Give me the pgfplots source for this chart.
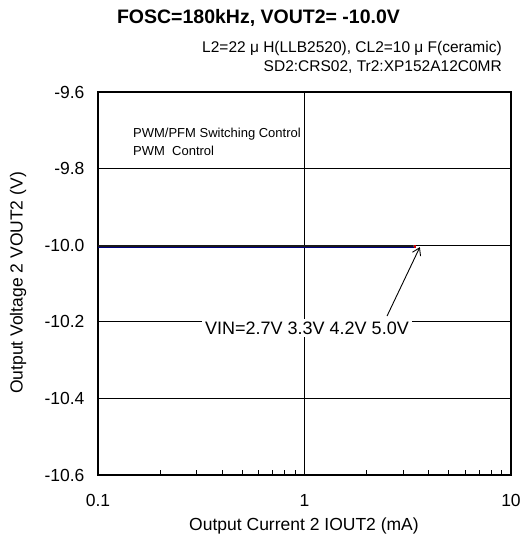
\documentclass[border=0pt]{standalone}
\usepackage{pgfplots}
\pgfplotsset{compat=1.18}
\usetikzlibrary{arrows.meta}
\usepackage{fontspec}
\setmainfont{Liberation Sans}

\begin{document}
\begin{tikzpicture}
\path[use as bounding box] (-98pt,-74pt) rectangle (425pt,475pt);
\begin{axis}[
	scale only axis,
	width=413pt, height=383pt,
	at={(0,0)}, anchor=south west,
	xmode=log,
	xmin=0.1, xmax=10,
	ymin=-10.6, ymax=-9.6,
	xtick={0.1,1,10},
	xticklabels={0.1,1,10},
	ytick={-10.6,-10.4,-10.2,-10.0,-9.8,-9.6},
	yticklabels={-10.6,-10.4,-10.2,-10.0,-9.8,-9.6},
	xtick pos=bottom, ytick pos=left,
	major tick length=0pt,
	minor tick length=5pt,
	minor x tick num=8,
	tick align=inside,
	minor tick style={black, line width=0.8pt},
	grid=major,
	major grid style={black, line width=0.9pt},
	axis line style={black, line width=1.8pt},
	tick label style={font=\fontsize{17.5}{20}\selectfont},
	xticklabel style={yshift=-16pt},
	yticklabel style={xshift=-10pt},
	/pgf/number format/assume math mode=true,
	clip=false,
]
\addplot[red!80!black, line width=2.6pt] coordinates {
	(0.1,-10.004) (0.2,-10.004) (0.5,-10.004) (1,-10.004) (2,-10.004) (3.45,-10.004)
};
\addplot[blue!50!black, line width=2.4pt] coordinates {
	(0.1,-10.003) (0.2,-10.003) (0.5,-10.003) (1,-10.003) (2,-10.003) (3.4,-10.003)
};
\addplot[gray!60!black, line width=2.4pt] coordinates {
	(0.1,-10.002) (0.2,-10.002) (0.5,-10.002) (1,-10.002) (2,-10.002) (3.38,-10.002)
};
\addplot[black!90, line width=2.2pt] coordinates {
	(0.1,-10.002) (0.2,-10.002) (0.5,-10.002) (1,-10.002) (2,-10.002) (3.35,-10.002)
};
\draw[-{Straight Barb[length=7pt,width=9pt]}, line width=0.9pt] (axis cs:2.51,-10.185) -- (axis cs:3.62,-10.005);
\node[fill=white, inner sep=3pt, font=\fontsize{18}{20}\selectfont] at (axis cs:1.028,-10.216) {VIN=2.7V 3.3V 4.2V 5.0V};
\node[anchor=north west, align=left, inner sep=0pt, font=\fontsize{13}{18}\selectfont] at (axis cs:0.1477,-9.694) {PWM/PFM Switching Control\\PWM\ \ Control};
\end{axis}
\node[font=\bfseries\fontsize{19.5}{22}\selectfont] at (160.5pt,457pt) {FOSC=180kHz, VOUT2= -10.0V};
\node[anchor=east, inner sep=0pt, font=\fontsize{15.5}{18}\selectfont] at (404pt,427pt) {L2=22 μ H(LLB2520), CL2=10 μ F(ceramic)};
\node[anchor=east, inner sep=0pt, font=\fontsize{15.5}{18}\selectfont] at (404pt,408pt) {SD2:CRS02, Tr2:XP152A12C0MR};
\node[font=\fontsize{17.5}{20}\selectfont] at (206pt,-51pt) {Output Current 2 IOUT2 (mA)};
\node[rotate=90, font=\fontsize{17.5}{20}\selectfont] at (-80pt,192pt) {Output Voltage 2 VOUT2 (V)};
\end{tikzpicture}
\end{document}
